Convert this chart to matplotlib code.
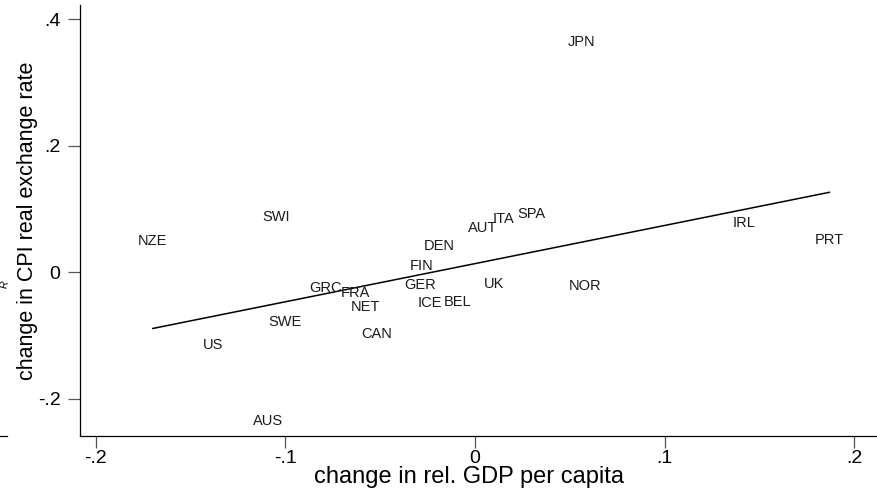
import matplotlib
matplotlib.use("Agg")
import matplotlib.pyplot as plt
from matplotlib.lines import Line2D
import numpy as np

plt.rcParams['font.family'] = ['Liberation Sans', 'DejaVu Sans']

# country codes with change in relative GDP per capita (x) and change in CPI real exchange rate (y)
countries = ['JPN', 'NZE', 'SWI', 'AUT', 'ITA', 'SPA', 'DEN', 'FIN', 'GRC', 'FRA',
             'NET', 'GER', 'ICE', 'BEL', 'UK', 'NOR', 'SWE', 'CAN', 'US', 'AUS',
             'IRL', 'PRT']
gdp_change = [0.056, -0.170, -0.105, 0.004, 0.015, 0.030, -0.019, -0.028, -0.079, -0.063,
              -0.058, -0.029, -0.024, -0.009, 0.010, 0.058, -0.100, -0.052, -0.138, -0.109,
              0.142, 0.187]
rer_change = [0.364, 0.050, 0.088, 0.070, 0.085, 0.093, 0.042, 0.010, -0.024, -0.032,
              -0.054, -0.020, -0.048, -0.047, -0.018, -0.021, -0.079, -0.098, -0.115, -0.235,
              0.079, 0.051]

# linear fit
fit_intercept = 0.0140
fit_slope = 0.603

xticks = [-0.2, -0.1, 0.0, 0.1, 0.2]
xtick_labels = ['-.2', '-.1', '0', '.1', '.2']
yticks = [-0.2, 0.0, 0.2, 0.4]
ytick_labels = ['-.2', '0', '.2', '.4']

fig = plt.figure(figsize=(8.77, 4.91), dpi=100)
ax = fig.add_axes([0.0912, 0.111, 0.9088, 0.879])

for name, x, y in zip(countries, gdp_change, rer_change):
    ax.text(x, y, name, ha='center', va='center', fontsize=10.5, color='#1a1a1a')

xfit = np.array([min(gdp_change), max(gdp_change)])
ax.plot(xfit, fit_intercept + fit_slope * xfit, color='black', lw=1.1)

ax.set_xlim(-0.2084, 0.2121)
ax.set_ylim(-0.2593, 0.423)
ax.set_xticks(xticks)
ax.set_xticklabels(xtick_labels)
ax.set_yticks(yticks)
ax.set_yticklabels(ytick_labels)

for side in ['top', 'right']:
    ax.spines[side].set_visible(False)
for side in ['left', 'bottom']:
    ax.spines[side].set_linewidth(0.9)
    ax.spines[side].set_color('black')

ax.tick_params(axis='both', length=8.5, width=0.9, color='#555555', labelsize=14)
ax.tick_params(axis='x', pad=1.5)
ax.tick_params(axis='y', pad=5.5)

ax.set_xlabel('change in rel. GDP per capita', fontsize=17)
ax.xaxis.set_label_coords(0.488, -0.069)
ax.set_ylabel('change in CPI real exchange rate', fontsize=15.5, labelpad=0)

# leftover pieces of the neighbouring panel
fig.add_artist(Line2D([0, 0.008], [0.111, 0.111], color='black', lw=0.9))
fig.text(0.005, 0.42, 'R', fontsize=7.5, rotation=75, ha='center', va='center')

fig.savefig('out.png', dpi=100)
